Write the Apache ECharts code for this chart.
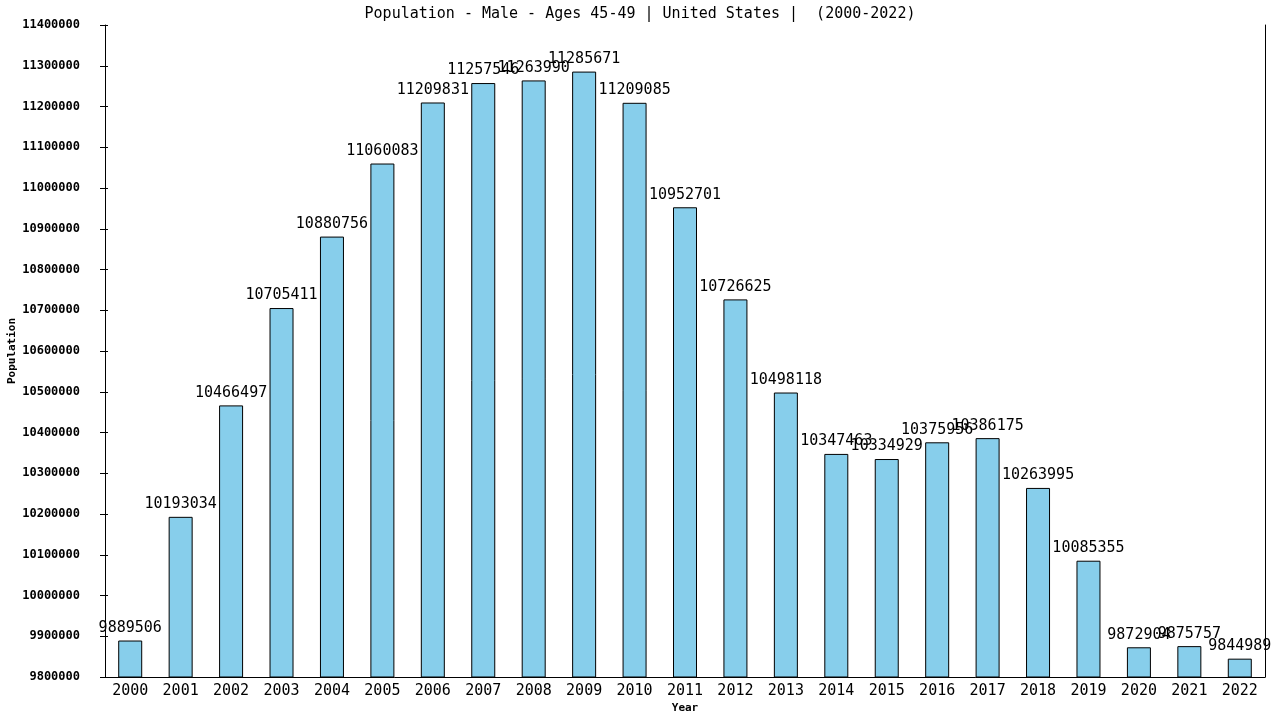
<!DOCTYPE html>
<html><head><meta charset="utf-8">
<script src="https://cdn.jsdelivr.net/npm/echarts@6/dist/echarts.min.js"></script>
<style>html,body{margin:0;padding:0;background:#fff}#c{width:1280px;height:720px}</style>
</head><body><div id="c"></div>
<script>
const years = ['2000','2001','2002','2003','2004','2005','2006','2007','2008','2009','2010','2011','2012','2013','2014','2015','2016','2017','2018','2019','2020','2021','2022'];
const population = [9889506,10193034,10466497,10705411,10880756,11060083,11209831,11257546,11263990,11285671,11209085,10952701,10726625,10498118,10347463,10334929,10375956,10386175,10263995,10085355,9872904,9875757,9844989];
const yMin = 9800000, yMax = 11400000, yStep = 100000;
const titleText = 'Population - Male - Ages 45-49 | United States |  (2000-2022)';
const font = 'DejaVu Sans Mono';
const chart = echarts.init(document.getElementById('c'));
chart.setOption({
  animation:false,
  title:{text:titleText,left:'center',top:2,textStyle:{fontFamily:font,fontSize:15,fontWeight:'normal',color:'#000'}},
  grid:{left:105,right:15,top:25,bottom:43,containLabel:false,outerBoundsMode:'none'},
  xAxis:{type:'category',data:years,name:'Year',nameLocation:'middle',nameGap:26,nameMoveOverlap:false,
    nameTextStyle:{fontFamily:font,fontSize:11,fontWeight:'bold',color:'#000'},
    axisLine:{lineStyle:{color:'#000'}},axisTick:{show:false},
    axisLabel:{fontFamily:font,fontSize:15,color:'#000',margin:7}},
  yAxis:[{type:'value',min:yMin,max:yMax,interval:yStep,name:'Population',nameLocation:'middle',nameGap:87,nameMoveOverlap:false,
    nameTextStyle:{fontFamily:font,fontSize:11,fontWeight:'bold',color:'#000'},
    axisLine:{show:true,lineStyle:{color:'#000'}},axisTick:{show:true,length:5,lineStyle:{color:'#000'}},
    splitLine:{show:false},
    axisLabel:{fontFamily:font,fontSize:12,fontWeight:'bold',color:'#000',margin:25,formatter:v=>String(v)}},
    {type:'value',min:yMin,max:yMax,interval:yStep,position:'left',axisLine:{show:false},axisTick:{show:true,inside:true,length:3,lineStyle:{color:'#000'}},axisLabel:{show:false},splitLine:{show:false}},
    {type:'value',min:yMin,max:yMax,interval:yStep,position:'right',axisLine:{show:true,lineStyle:{color:'#000'}},axisTick:{show:false},axisLabel:{show:false},splitLine:{show:false}}],
  series:[{type:'bar',data:population,barWidth:24,
    itemStyle:{color:'#87CEEB',borderColor:'#000',borderWidth:1},
    label:{show:true,position:'top',distance:5,fontFamily:font,fontSize:15,color:'#000'}}]
});
</script></body></html>
